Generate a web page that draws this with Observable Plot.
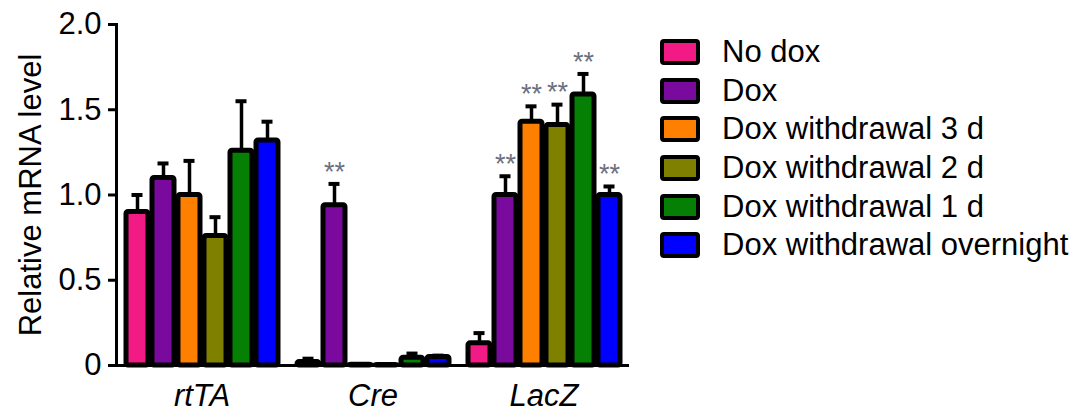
<!DOCTYPE html>
<html>
<head>
<meta charset="utf-8">
<script src="https://cdn.jsdelivr.net/npm/d3@7"></script>
<script src="https://cdn.jsdelivr.net/npm/@observablehq/plot@0.6"></script>
<style>
  html, body { margin: 0; padding: 0; background: white; }
  #wrap { position: relative; width: 1079px; height: 412px; font-family: "Liberation Sans", Arial, sans-serif; }
  #chart { position: absolute; left: 0; top: 0; }
  #legend { position: absolute; left: 660px; top: 33px; }
  .row { display: flex; align-items: center; height: 38.6px; }
  .sw { width: 40px; height: 26px; box-sizing: border-box; border: 4px solid black; border-radius: 4px; }
  .lab { margin-left: 22px; font-size: 31px; color: black; white-space: nowrap; }
</style>
</head>
<body>
<div id="wrap">
  <div id="chart"></div>
  <div id="legend"></div>
</div>
<script>
const genes = ["rtTA", "Cre", "LacZ"];
const conditions = ["No dox", "Dox", "Dox withdrawal 3 d", "Dox withdrawal 2 d", "Dox withdrawal 1 d", "Dox withdrawal overnight"];
const colors = ["#f21a84", "#7a0a9e", "#ff8000", "#808000", "#058005", "#0000ff"];

const rtTA_mean = [0.90, 1.10, 1.00, 0.76, 1.26, 1.32];
const rtTA_sd   = [0.10, 0.085, 0.20, 0.11, 0.29, 0.11];
const rtTA_sig  = ["", "", "", "", "", ""];

const cre_mean = [0.02, 0.94, 0.005, 0.003, 0.045, 0.05];
const cre_sd   = [0.02, 0.125, 0.003, 0.002, 0.025, 0.008];
const cre_sig  = ["", "**", "", "", "", ""];

const lacZ_mean = [0.13, 1.00, 1.43, 1.41, 1.59, 1.00];
const lacZ_sd   = [0.06, 0.11, 0.09, 0.12, 0.12, 0.05];
const lacZ_sig  = ["", "**", "**", "**", "**", "**"];

const yTicks = [0, 0.5, 1.0, 1.5, 2.0];

const means = [rtTA_mean, cre_mean, lacZ_mean];
const sds = [rtTA_sd, cre_sd, lacZ_sd];
const sigs = [rtTA_sig, cre_sig, lacZ_sig];

const table = [];
genes.forEach((g, gi) => conditions.forEach((c, ci) => table.push({
  gene: g, condition: c, mean: means[gi][ci], sd: sds[gi][ci], top: means[gi][ci] + sds[gi][ci], sig: sigs[gi][ci]
})));

const chart = Plot.plot({
  width: 650,
  height: 412,
  marginLeft: 115,
  marginRight: 20,
  marginTop: 24,
  marginBottom: 47,
  style: { fontFamily: "'Liberation Sans', Arial, sans-serif", fontSize: "31px", color: "black", background: "white" },
  fx: { domain: genes, paddingInner: 0, paddingOuter: 0, label: null, axis: null },
  x: { domain: conditions, paddingInner: 0.17, paddingOuter: 0.33, axis: null },
  y: { domain: [0, 2], label: null, axis: null },
  color: { domain: conditions, range: colors },
  marks: [
    Plot.ruleX(table, { fx: "gene", x: "condition", y1: "mean", y2: "top", stroke: "black", strokeWidth: 3.5 }),
    Plot.tickY(table, { fx: "gene", x: "condition", y: "top", stroke: "black", strokeWidth: 4, insetLeft: 5.5, insetRight: 5.5 }),
    Plot.barY(table, { fx: "gene", x: "condition", y: "mean", fill: "condition", stroke: "black", strokeWidth: 5, strokeLinejoin: "round", rx: 2 }),
    Plot.text(table.filter(d => d.sig), { fx: "gene", x: "condition", y: "top", text: "sig", dy: -12, fill: "#6b7080", fontSize: 27 }),
    Plot.ruleY([0], { stroke: "black", strokeWidth: 3 }),
    Plot.frame({ anchor: "left", facetAnchor: "left", stroke: "black", strokeWidth: 3 }),
    Plot.axisY({
      ticks: yTicks,
      tickFormat: d => d === 0 ? "0" : d.toFixed(1),
      tickSize: 8,
      tickPadding: 7,
      strokeWidth: 3,
      fontSize: 31,
      label: "Relative mRNA level",
      labelArrow: "none",
      labelAnchor: "center",
      labelOffset: 98
    }),
    Plot.axisFx({ anchor: "bottom", tickSize: 0, tickPadding: 18, fontSize: 31, fontStyle: "italic", label: null })
  ]
});
document.getElementById("chart").appendChild(chart);

const legend = d3.select("#legend");
conditions.forEach((c, i) => {
  const row = legend.append("div").attr("class", "row");
  row.append("div").attr("class", "sw").style("background", colors[i]);
  row.append("div").attr("class", "lab").text(c);
});
</script>
</body>
</html>
